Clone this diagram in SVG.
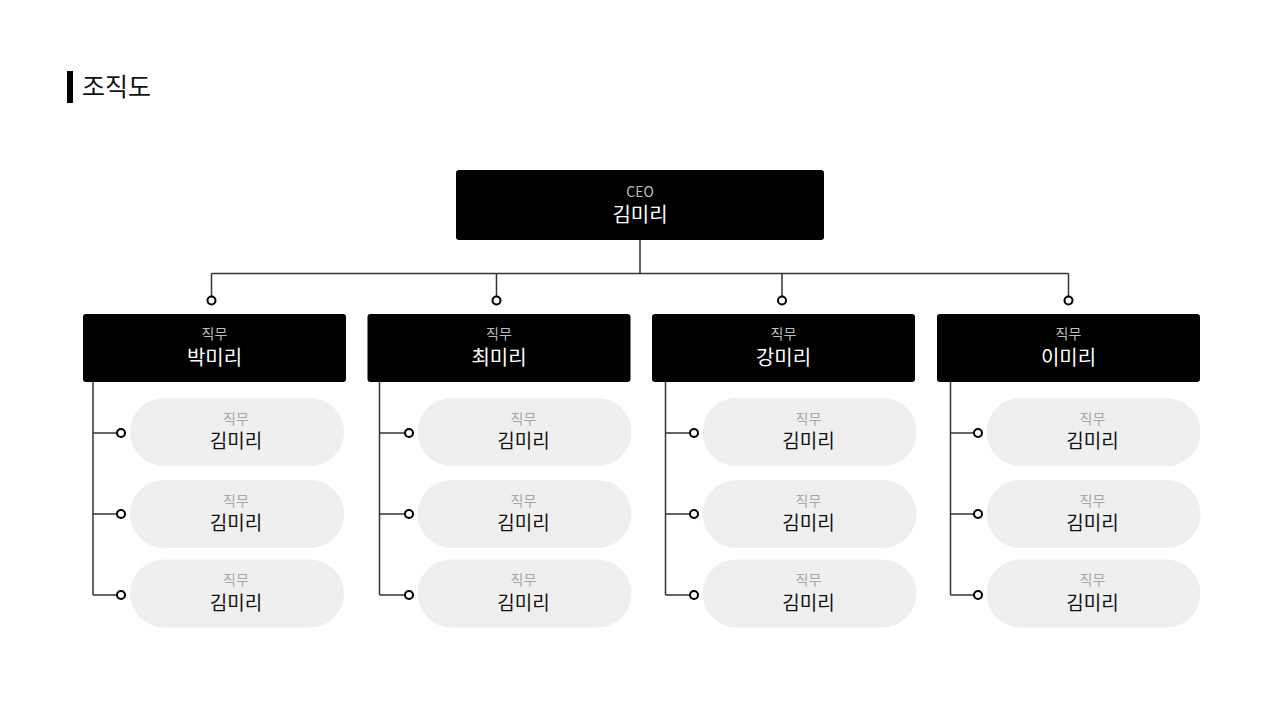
<svg xmlns="http://www.w3.org/2000/svg" width="1280" height="720" viewBox="0 0 1280 720">
<style>
text{font-family:"Noto Sans CJK KR","Noto Sans",sans-serif;text-anchor:middle}
.title{font-size:25px;fill:#111;text-anchor:start}
.dark{fill:#000}
.pill{fill:#efefef}
.role{font-size:14px;fill:#bdbdbd}
.prole{font-size:14px;fill:#a6a6a6}
.wname{font-size:20px;fill:#fff}
.bname{font-size:19px;fill:#111}
.ln{stroke:#333;stroke-width:1.5;fill:none}
.dot{fill:#fff;stroke:#000;stroke-width:2}
</style>
<rect width="1280" height="720" fill="#fff"/>
<g id="title">
<rect x="67" y="71" width="6" height="32" fill="#000"/>
<text class="title" x="82" y="96">조직도</text>
</g>
<g id="connectors">
<path class="ln" d="M640 240V273.5M211.5 273.5H1068.5M211.5 273.5V296M496.5 273.5V296M782 273.5V296M1068.5 273.5V296"/>
<circle class="dot" cx="211.5" cy="300.5" r="4"/>
<circle class="dot" cx="496.5" cy="300.5" r="4"/>
<circle class="dot" cx="782" cy="300.5" r="4"/>
<circle class="dot" cx="1068.5" cy="300.5" r="4"/>
<path class="ln" d="M93 382V595M93 433H117M93 514H117M93 595H117"/>
<path class="ln" d="M379.5 382V595M379.5 433H405M379.5 514H405M379.5 595H405"/>
<path class="ln" d="M665.5 382V595M665.5 433H690M665.5 514H690M665.5 595H690"/>
<path class="ln" d="M950.5 382V595M950.5 433H974M950.5 514H974M950.5 595H974"/>
<circle class="dot" cx="121" cy="433" r="4"/><circle class="dot" cx="121" cy="514" r="4"/><circle class="dot" cx="121" cy="595" r="4"/>
<circle class="dot" cx="409" cy="433" r="4"/><circle class="dot" cx="409" cy="514" r="4"/><circle class="dot" cx="409" cy="595" r="4"/>
<circle class="dot" cx="694" cy="433" r="4"/><circle class="dot" cx="694" cy="514" r="4"/><circle class="dot" cx="694" cy="595" r="4"/>
<circle class="dot" cx="978" cy="433" r="4"/><circle class="dot" cx="978" cy="514" r="4"/><circle class="dot" cx="978" cy="595" r="4"/>
</g>
<g id="ceo">
<rect class="dark" x="456" y="170" width="368" height="70" rx="3"/>
<text class="role" x="640" y="197">CEO</text>
<text class="wname" x="640" y="222">김미리</text>
</g>
<g id="m1">
<rect class="dark" x="83" y="314" width="263" height="68" rx="3"/>
<text class="role" x="214.5" y="338.5">직무</text>
<text class="wname" x="214.5" y="365">박미리</text>
</g>
<g id="m2">
<rect class="dark" x="367.5" y="314" width="263" height="68" rx="3"/>
<text class="role" x="499" y="338.5">직무</text>
<text class="wname" x="499" y="365">최미리</text>
</g>
<g id="m3">
<rect class="dark" x="652" y="314" width="263" height="68" rx="3"/>
<text class="role" x="783.5" y="338.5">직무</text>
<text class="wname" x="783.5" y="365">강미리</text>
</g>
<g id="m4">
<rect class="dark" x="937" y="314" width="263" height="68" rx="3"/>
<text class="role" x="1068.5" y="338.5">직무</text>
<text class="wname" x="1068.5" y="365">이미리</text>
</g>
<g id="s1a"><rect class="pill" x="130" y="398" width="214" height="68" rx="34"/><text class="prole" x="236" y="423.5">직무</text><text class="bname" x="236" y="448">김미리</text></g>
<g id="s1b"><rect class="pill" x="130" y="480" width="214" height="68" rx="34"/><text class="prole" x="236" y="505.5">직무</text><text class="bname" x="236" y="530">김미리</text></g>
<g id="s1c"><rect class="pill" x="130" y="559.5" width="214" height="68" rx="34"/><text class="prole" x="236" y="585">직무</text><text class="bname" x="236" y="609.5">김미리</text></g>
<g id="s2a"><rect class="pill" x="417.5" y="398" width="214" height="68" rx="34"/><text class="prole" x="523.5" y="423.5">직무</text><text class="bname" x="523.5" y="448">김미리</text></g>
<g id="s2b"><rect class="pill" x="417.5" y="480" width="214" height="68" rx="34"/><text class="prole" x="523.5" y="505.5">직무</text><text class="bname" x="523.5" y="530">김미리</text></g>
<g id="s2c"><rect class="pill" x="417.5" y="559.5" width="214" height="68" rx="34"/><text class="prole" x="523.5" y="585">직무</text><text class="bname" x="523.5" y="609.5">김미리</text></g>
<g id="s3a"><rect class="pill" x="702.5" y="398" width="214" height="68" rx="34"/><text class="prole" x="808.5" y="423.5">직무</text><text class="bname" x="808.5" y="448">김미리</text></g>
<g id="s3b"><rect class="pill" x="702.5" y="480" width="214" height="68" rx="34"/><text class="prole" x="808.5" y="505.5">직무</text><text class="bname" x="808.5" y="530">김미리</text></g>
<g id="s3c"><rect class="pill" x="702.5" y="559.5" width="214" height="68" rx="34"/><text class="prole" x="808.5" y="585">직무</text><text class="bname" x="808.5" y="609.5">김미리</text></g>
<g id="s4a"><rect class="pill" x="986.5" y="398" width="214" height="68" rx="34"/><text class="prole" x="1092.5" y="423.5">직무</text><text class="bname" x="1092.5" y="448">김미리</text></g>
<g id="s4b"><rect class="pill" x="986.5" y="480" width="214" height="68" rx="34"/><text class="prole" x="1092.5" y="505.5">직무</text><text class="bname" x="1092.5" y="530">김미리</text></g>
<g id="s4c"><rect class="pill" x="986.5" y="559.5" width="214" height="68" rx="34"/><text class="prole" x="1092.5" y="585">직무</text><text class="bname" x="1092.5" y="609.5">김미리</text></g>
</svg>
